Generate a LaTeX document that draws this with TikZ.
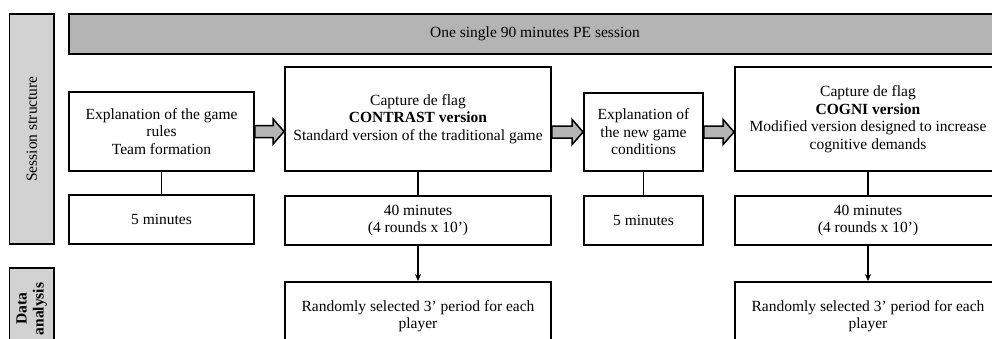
\documentclass[tikz,border=0pt]{standalone}
\usepackage{fontspec}
\setmainfont{Liberation Serif}
\usetikzlibrary{arrows.meta,calc}

\definecolor{sidegray}{HTML}{D2D2D2}
\definecolor{bargray}{HTML}{B4B4B4}

\begin{document}
\begin{tikzpicture}[x=1pt, y=-1pt, line width=1.8pt,
	box/.style={draw, fill=white, align=center, inner sep=2pt,
		font=\fontsize{15.5}{17.5}\selectfont},
	sidebar/.style={box, fill=sidegray, rotate=90},
	durbox/.style={box, minimum height=49},
	gapfill/.style={draw, fill=bargray, line width=1.5pt, line join=miter},
	timeline/.style={draw, line width=1.6pt},
	pick/.style={timeline, -{Stealth[length=7pt, width=6pt]}}]

	\useasboundingbox (0,0) rectangle (992,338);
	\clip (0,0) rectangle (992,338);

	% Row labels on the left
	\node[sidebar, minimum width=230, minimum height=44.5] (sess) at (31.75,129) {Session structure};
	\node[sidebar, minimum width=82, minimum height=44.5, font=\fontsize{15.5}{17}\selectfont\bfseries] (data) at (31.75,309) {Data\\analysis};

	% Header bar
	\node[box, fill=bargray, minimum width=932, minimum height=40] (session) at (535,34) {One single 90 minutes PE session};

	% Session parts
	\node[box, minimum width=185, minimum height=79] (expl) at (161.5,131.5) {Explanation of the game\\rules\\Team formation};
	\node[box, minimum width=266, minimum height=104] (contrast) at (418,119) {Capture de flag\\\textbf{CONTRAST version}\\Standard version of the traditional game};
	\node[box, minimum width=119, minimum height=78] (newcond) at (643.5,132) {Explanation of\\the new game\\conditions};
	\node[box, minimum width=266, minimum height=104] (cogni) at (868,119) {Capture de flag\\\textbf{COGNI version}\\Modified version designed to increase\\cognitive demands};

	% Durations
	\node[durbox, minimum width=185] (dur1) at (161.5,219.5) {5 minutes};
	\node[durbox, minimum width=266] (dur2) at (418,220.5) {40 minutes\\(4 rounds x 10’)};
	\node[durbox, minimum width=119] (dur3) at (643.5,220.5) {5 minutes};
	\node[durbox, minimum width=266] (dur4) at (868,220.5) {40 minutes\\(4 rounds x 10’)};

	% Analysed periods
	\node[box, minimum width=266, minimum height=68] (sample2) at (418,316) {Randomly selected 3’ period for each\\player};
	\node[box, minimum width=266, minimum height=68] (sample4) at (868,316) {Randomly selected 3’ period for each\\player};

	% Links between parts and durations
	\path[timeline] (expl) -- (dur1);
	\path[timeline] (contrast) -- (dur2);
	\path[timeline] (newcond) -- (dur3);
	\path[timeline] (cogni) -- (dur4);
	\path[pick] (dur2) -- (sample2);
	\path[pick] (dur4) -- (sample4);

	% Block arrows between the parts
	\draw[gapfill] let \p1=(expl.east), \p2=(contrast.west) in
		(\x1,\y1+6pt) -- (\x2-11pt,\y1+6pt) -- (\x2-11pt,\y1+12.5pt) -- (\x2,\y1)
		-- (\x2-11pt,\y1-12.5pt) -- (\x2-11pt,\y1-6pt) -- (\x1,\y1-6pt) -- cycle;
	\draw[gapfill] let \p1=(contrast.east), \p2=(newcond.west) in
		(\x1,\y2+6pt) -- (\x2-11pt,\y2+6pt) -- (\x2-11pt,\y2+12.5pt) -- (\x2,\y2)
		-- (\x2-11pt,\y2-12.5pt) -- (\x2-11pt,\y2-6pt) -- (\x1,\y2-6pt) -- cycle;
	\draw[gapfill] let \p1=(newcond.east), \p2=(cogni.west) in
		(\x1,\y1+6pt) -- (\x2-11pt,\y1+6pt) -- (\x2-11pt,\y1+12.5pt) -- (\x2,\y1)
		-- (\x2-11pt,\y1-12.5pt) -- (\x2-11pt,\y1-6pt) -- (\x1,\y1-6pt) -- cycle;
\end{tikzpicture}
\end{document}
